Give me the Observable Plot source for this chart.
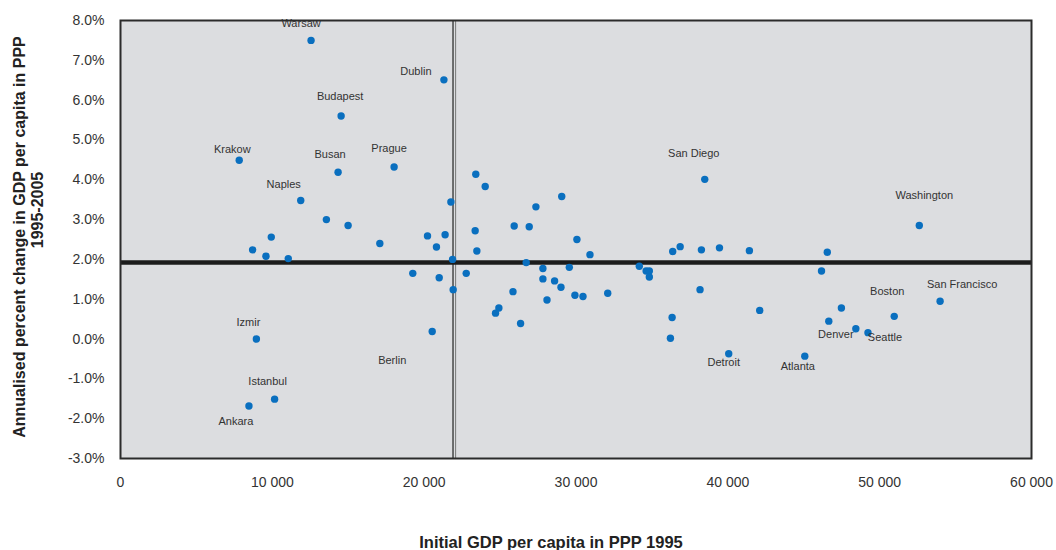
<!DOCTYPE html>
<html>
<head>
<meta charset="utf-8">
<script src="https://cdn.jsdelivr.net/npm/d3@7"></script>
<script src="https://cdn.jsdelivr.net/npm/@observablehq/plot@0.6"></script>
<style>
  body { margin: 0; background: #ffffff; }
  #chart svg { display: block; }
</style>
</head>
<body>
<div id="chart"></div>
<script>
// Named cities: initial GDP per capita (PPP, 1995) and annualised growth 1995-2005 (%)
const labeledCities = ["Warsaw", "Dublin", "Budapest", "Krakow", "Busan", "Prague", "Naples",
  "Izmir", "Istanbul", "Ankara", "Berlin", "San Diego", "Washington", "Boston",
  "San Francisco", "Denver", "Seattle", "Detroit", "Atlanta"];
const labeledGdp = [12550, 21300, 14530, 7820, 14330, 18020, 11870,
  8950, 10150, 8460, 20530, 38480, 52610, 50960,
  53980, 48430, 49230, 40060, 45070];
const labeledGrowth = [7.50, 6.51, 5.60, 4.49, 4.19, 4.32, 3.48,
  0.00, -1.51, -1.68, 0.19, 4.01, 2.85, 0.57,
  0.95, 0.26, 0.16, -0.37, -0.43];

// Remaining metro regions (unlabelled)
const otherGdp = [13560, 14990, 21760, 9930, 20220, 21380, 17080, 8700, 9580, 11050,
  20810, 21870, 19250, 20990, 21910, 23400, 24020, 29060, 27360, 25930,
  26920, 23360, 23470, 30060, 30920, 22770, 26720, 27820, 29560, 27820,
  28590, 29010, 25850, 29930, 30460, 32090, 28090, 24920, 24700, 26350,
  34170, 34620, 34830, 34830, 38170, 36330, 36220, 36370, 36860, 38260,
  39450, 41420, 46550, 46170, 42100, 47480, 46650];
const otherGrowth = [3.00, 2.85, 3.44, 2.56, 2.59, 2.62, 2.40, 2.24, 2.08, 2.02,
  2.31, 2.00, 1.65, 1.54, 1.24, 4.14, 3.83, 3.58, 3.32, 2.84,
  2.82, 2.72, 2.21, 2.50, 2.12, 1.65, 1.92, 1.77, 1.80, 1.51,
  1.46, 1.30, 1.19, 1.10, 1.07, 1.15, 0.98, 0.78, 0.65, 0.39,
  1.83, 1.71, 1.71, 1.56, 1.24, 0.54, 0.02, 2.20, 2.32, 2.24,
  2.29, 2.22, 2.18, 1.71, 0.72, 0.78, 0.45];

// Sample averages shown as reference lines
const averageGdp = 21900;
const averageGrowth = 1.92;

// Axis ticks
const xTicks = [0, 10000, 20000, 30000, 40000, 50000, 60000];
const yTicks = [-3, -2, -1, 0, 1, 2, 3, 4, 5, 6, 7, 8];

const xTitle = "Initial GDP per capita in PPP 1995";
const yTitle = ["Annualised percent change in GDP per capita in PPP", "1995-2005"];

const named = labeledCities.map((name, i) => ({name, gdp: labeledGdp[i], growth: labeledGrowth[i]}));
const others = otherGdp.map((g, i) => ({gdp: g, growth: otherGrowth[i]}));
const allPoints = named.concat(others);

// Where each city name sits relative to its dot (pixels)
const labelOffset = {
  "Warsaw": [-10, -17], "Dublin": [-28, -8], "Budapest": [-1, -20], "Krakow": [-7, -11],
  "Busan": [-8, -18], "Prague": [-5, -19], "Naples": [-17, -16], "Izmir": [-8, -17],
  "Istanbul": [-7, -18], "Ankara": [-13, 16], "Berlin": [-40, 29], "San Diego": [-11, -26],
  "Washington": [5, -30], "Boston": [-7, -25], "San Francisco": [22, -17],
  "Denver": [-20, 6], "Seattle": [17, 5], "Detroit": [-5, 9], "Atlanta": [-7, 10]
};

const fmtX = d => d === 0 ? "0" : d3.format(",")(d).replace(/,/g, " ");

const chart = Plot.plot({
  width: 1056,
  height: 550,
  marginLeft: 120,
  marginRight: 25,
  marginTop: 20,
  marginBottom: 92,
  style: {fontFamily: "'Liberation Sans', Arial, sans-serif", color: "#333", background: "#ffffff"},
  x: {domain: [0, 60000], label: null},
  y: {domain: [-3, 8], label: null},
  marks: [
    Plot.frame({fill: "#dcdde0", stroke: null}),
    Plot.ruleX([averageGdp], {stroke: "#222", strokeWidth: 1.2}),
    Plot.ruleX([averageGdp], {stroke: "#777", strokeWidth: 1, dx: 2.6}),
    Plot.ruleY([averageGrowth], {stroke: "#1c1c1c", strokeWidth: 4.5}),
    Plot.dot(allPoints, {x: "gdp", y: "growth", r: 3.7, fill: "#0a6fbf", stroke: null}),
    ...named.map(d => Plot.text([d], {
      x: "gdp", y: "growth", text: "name",
      dx: labelOffset[d.name][0], dy: labelOffset[d.name][1],
      fontSize: 11, fill: "#333"
    })),
    Plot.frame({stroke: "#2b2b2b", strokeWidth: 2}),
    Plot.axisX(xTicks, {tickSize: 0, tickPadding: 19, tickFormat: fmtX, fontSize: 14, label: null}),
    Plot.axisY(yTicks, {tickSize: 0, tickPadding: 16, tickFormat: d => d.toFixed(1) + "%", fontSize: 14, label: null})
  ]
});

document.getElementById("chart").appendChild(chart);

// Axis titles
const svg = d3.select(chart);
svg.append("text")
  .attr("x", 551).attr("y", 548)
  .attr("text-anchor", "middle")
  .attr("font-weight", "bold").attr("font-size", 16.5)
  .attr("fill", "#222")
  .text(xTitle);
svg.append("text")
  .attr("transform", "translate(25,237) rotate(-90)")
  .attr("text-anchor", "middle")
  .attr("font-weight", "bold").attr("font-size", 16)
  .attr("fill", "#222")
  .text(yTitle[0]);
svg.append("text")
  .attr("transform", "translate(43,210) rotate(-90)")
  .attr("text-anchor", "middle")
  .attr("font-weight", "bold").attr("font-size", 16)
  .attr("fill", "#222")
  .text(yTitle[1]);
</script>
</body>
</html>
